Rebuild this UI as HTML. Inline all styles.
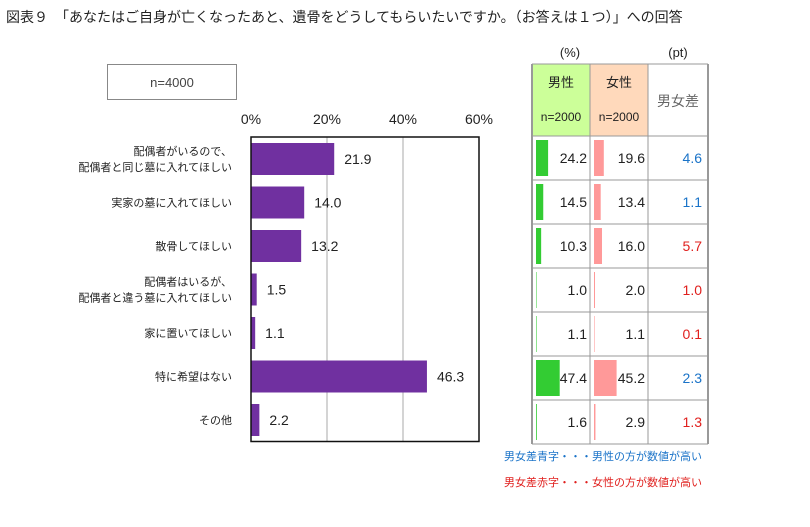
<!DOCTYPE html>
<html><head><meta charset="utf-8"><style>
body{margin:0;background:#fff;font-family:"Liberation Sans","Noto Sans CJK JP",sans-serif;}
svg text{font-family:"Liberation Sans","Noto Sans CJK JP",sans-serif;}
</style></head><body>
<svg id="c" width="810" height="522" xmlns="http://www.w3.org/2000/svg">
<text x="6" y="22" font-size="14" fill="#222">図表９　「あなたはご自身が亡くなったあと、遺骨をどうしてもらいたいですか。（お答えは１つ）」への回答</text>
<rect x="107.5" y="64.5" width="129" height="35" fill="#fff" stroke="#888"/>
<text x="172" y="87" font-size="13" fill="#444" text-anchor="middle">n=4000</text>
<text x="570" y="57" font-size="13" fill="#222" text-anchor="middle">(%)</text>
<text x="678" y="57" font-size="13" fill="#222" text-anchor="middle">(pt)</text>
<rect x="532" y="64" width="58" height="72" fill="#ccff99"/>
<rect x="590" y="64" width="58" height="72" fill="#ffd9bb"/>
<text x="561" y="87" font-size="13" fill="#222" text-anchor="middle">男性</text>
<text x="561" y="121" font-size="12" fill="#222" text-anchor="middle">n=2000</text>
<text x="619" y="87" font-size="13" fill="#222" text-anchor="middle">女性</text>
<text x="619" y="121" font-size="12" fill="#222" text-anchor="middle">n=2000</text>
<text x="678" y="106" font-size="14" fill="#666" text-anchor="middle">男女差</text>
<text x="702" y="460" font-size="11" fill="#1a73c8" text-anchor="end">男女差青字・・・男性の方が数値が高い</text>
<text x="702" y="486" font-size="11" fill="#e0201e" text-anchor="end">男女差赤字・・・女性の方が数値が高い</text>
<g id="g"></g>
</svg>
<script>
const categories=[["配偶者がいるので、","配偶者と同じ墓に入れてほしい"],["実家の墓に入れてほしい"],["散骨してほしい"],["配偶者はいるが、","配偶者と違う墓に入れてほしい"],["家に置いてほしい"],["特に希望はない"],["その他"]];
const totals=[21.9,14.0,13.2,1.5,1.1,46.3,2.2];
const male=[24.2,14.5,10.3,1.0,1.1,47.4,1.6];
const female=[19.6,13.4,16.0,2.0,1.1,45.2,2.9];
const diffs=[4.6,1.1,-5.7,-1.0,-0.1,2.3,-1.3];
const ticks=[0,20,40,60];
const NS="http://www.w3.org/2000/svg";
const g=document.getElementById('g');
function mk(t,a,txt){const e=document.createElementNS(NS,t);for(const k in a)e.setAttribute(k,a[k]);if(txt!=null)e.textContent=txt;g.appendChild(e);return e;}
const x0=251,x1=479,plotTop=137,rowH=43.5;
const xs=v=>x0+v/60*(x1-x0);
const yc=i=>plotTop+rowH*i+22;
ticks.forEach(t=>{
 if(t>0&&t<60){const l=mk('line',{x1:xs(t),x2:xs(t),y1:plotTop,y2:plotTop+rowH*7,stroke:'#aaa'});
 
 }
 const tx=mk('text',{x:xs(t),y:124,'font-size':14,'text-anchor':'middle',fill:'#222'},t+'%');
 
 
});
categories.forEach((c,i)=>{
 const y=yc(i);
 const b=mk('rect',{x:x0,y:y-16,width:xs(totals[i])-x0,height:32,fill:'#7030a0'});
 
 
 const v=mk('text',{x:xs(totals[i])+10,y:y+5,'font-size':14,fill:'#222'},totals[i].toFixed(1));
 
 
 c.forEach((line,j)=>{
  const ly=c.length==1?y+4:y-4+j*16;
  const t=mk('text',{x:232,y:ly,'font-size':11,fill:'#222','text-anchor':'end'},line);
  
  
 });
 const ry=136+44*i;
 const cy=ry+22;
 const mb=mk('rect',{x:536,y:ry+4,width:male[i]*0.5,height:36,fill:'#33cc33'});
 
 
 const fb=mk('rect',{x:594,y:ry+4,width:female[i]*0.5,height:36,fill:'#ff9999'});
 
 
 const mt=mk('text',{x:587,y:cy+5,'font-size':14,fill:'#222','text-anchor':'end'},male[i].toFixed(1));
 
 
 const ft=mk('text',{x:645,y:cy+5,'font-size':14,fill:'#222','text-anchor':'end'},female[i].toFixed(1));
 
 
 const d=diffs[i];
 const dt=mk('text',{x:702,y:cy+5,'font-size':14,fill:d>0?'#1a73c8':'#e0201e','text-anchor':'end'},Math.abs(d).toFixed(1));
 
 
});
const fr=mk('rect',{x:x0,y:plotTop,width:x1-x0,height:rowH*7,fill:'none',stroke:'#111','stroke-width':1.5});


[64,136,180,224,268,312,356,400,444].forEach(y=>{const l=mk('line',{x1:532,x2:708,y1:y,y2:y,stroke:'#999'});
 
 });
[532,590,648,708].forEach(x=>{const l=mk('line',{x1:x,x2:x,y1:64,y2:444,stroke:'#999','stroke-width':x==532||x==708?2:1});
 
 });
</script>
</body></html>
